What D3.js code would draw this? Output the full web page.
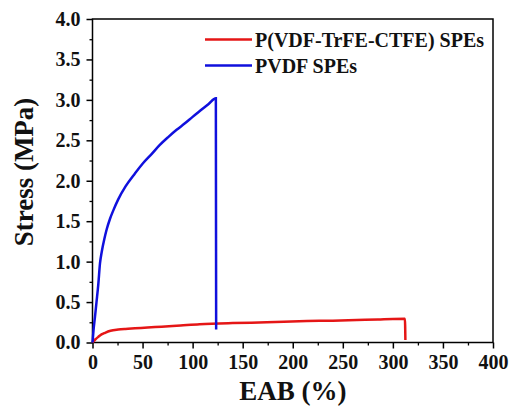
<!DOCTYPE html>
<html>
<head>
<meta charset="utf-8">
<script src="https://cdn.jsdelivr.net/npm/d3@7"></script>
<style>
  body { margin: 0; background: #fff; }
</style>
</head>
<body>
<div id="chart"></div>
<script>
// PVDF SPEs (blue)
let pvdfStrain = [0, 1, 2.5, 4, 5.8, 7.5, 9.2, 12, 14.2, 17.5, 21, 25.7, 33, 42.4, 50, 59, 67, 75.6, 84, 92.3, 100, 109, 116, 123.2, 123.5];
let pvdfStress = [0, 0.15, 0.32, 0.5, 0.72, 0.98, 1.12, 1.29, 1.40, 1.53, 1.64, 1.77, 1.93, 2.09, 2.21, 2.33, 2.44, 2.54, 2.63, 2.71, 2.79, 2.88, 2.95, 3.02, 0.16];

// P(VDF-TrFE-CTFE) SPEs (red)
let terStrain = [0, 3, 5.8, 9, 12.5, 18, 25.7, 33, 42.4, 55, 69, 88, 107, 140, 174, 214, 240, 264, 285, 300, 312, 312.5];
let terStress = [0, 0.04, 0.07, 0.10, 0.12, 0.145, 0.16, 0.168, 0.175, 0.185, 0.195, 0.21, 0.225, 0.24, 0.25, 0.265, 0.27, 0.278, 0.285, 0.292, 0.294, 0.03];

let xTicks = [0, 50, 100, 150, 200, 250, 300, 350, 400];
let yTicks = [0, 0.5, 1.0, 1.5, 2.0, 2.5, 3.0, 3.5, 4.0];
let seriesNames = ["P(VDF-TrFE-CTFE) SPEs", "PVDF SPEs"];
let seriesColors = ["#e51616", "#1010dd"];

let font = "'Liberation Serif', 'Times New Roman', 'DejaVu Serif', serif";
let w = 509;
let h = 406;
let mLeft = 92.5, mRight = 493, mTop = 19, mBottom = 342.5;

let svg = d3.select("#chart")
            .append("svg")
            .attr("width", w)
            .attr("height", h);

let x = d3.scaleLinear().domain([0, 400]).range([mLeft, mRight]);
let y = d3.scaleLinear().domain([0, 4]).range([mBottom, mTop]);

// minor ticks
svg.append("g")
    .attr("transform", "translate(0," + mBottom + ")")
    .call(d3.axisBottom(x).tickValues(d3.range(25, 400, 50)).tickSize(3).tickFormat(""))
    .call(g => g.select(".domain").remove())
    .selectAll("line").attr("stroke-width", 1.3);
svg.append("g")
    .attr("transform", "translate(" + mLeft + ",0)")
    .call(d3.axisLeft(y).tickValues(d3.range(0.25, 4, 0.5)).tickSize(3).tickFormat(""))
    .call(g => g.select(".domain").remove())
    .selectAll("line").attr("stroke-width", 1.3);

// major ticks
let xAxis = svg.append("g")
    .attr("transform", "translate(0," + mBottom + ")")
    .call(d3.axisBottom(x).tickValues(xTicks).tickSize(6).tickPadding(6).tickFormat(d3.format("d")));
xAxis.select(".domain").remove();
xAxis.selectAll("line").attr("stroke-width", 1.5);
xAxis.selectAll("text")
    .style("font-family", font)
    .style("font-weight", "bold")
    .style("font-size", "20px")
    .attr("fill", "#111");

let yAxis = svg.append("g")
    .attr("transform", "translate(" + mLeft + ",0)")
    .call(d3.axisLeft(y).tickValues(yTicks).tickSize(6).tickPadding(6).tickFormat(d3.format(".1f")));
yAxis.select(".domain").remove();
yAxis.selectAll("line").attr("stroke-width", 1.5);
yAxis.selectAll("text")
    .style("font-family", font)
    .style("font-weight", "bold")
    .style("font-size", "20px")
    .attr("fill", "#111");

// frame
svg.append("rect")
    .attr("x", mLeft)
    .attr("y", mTop)
    .attr("width", mRight - mLeft)
    .attr("height", mBottom - mTop)
    .attr("fill", "none")
    .attr("stroke", "#000")
    .attr("stroke-width", 1.5);

let line = d3.line()
    .x(d => x(d[0]))
    .y(d => y(d[1]))
    .curve(d3.curveMonotoneX);

let terData = terStrain.map((v, i) => [v, terStress[i]]);
let pvdfData = pvdfStrain.map((v, i) => [v, pvdfStress[i]]);

svg.append("path")
    .datum(terData)
    .attr("d", line)
    .attr("fill", "none")
    .attr("stroke", seriesColors[0])
    .attr("stroke-width", 2.5);

svg.append("path")
    .datum(pvdfData)
    .attr("d", line)
    .attr("fill", "none")
    .attr("stroke", seriesColors[1])
    .attr("stroke-width", 2.5);

// legend
let legend = svg.selectAll(".legend")
    .data(seriesNames)
    .enter()
    .append("g")
    .attr("class", "legend")
    .attr("transform", (d, i) => "translate(205," + (39.5 + i * 26) + ")");

legend.append("line")
    .attr("x1", 0)
    .attr("x2", 47)
    .attr("stroke", (d, i) => seriesColors[i])
    .attr("stroke-width", 2.5);

legend.append("text")
    .attr("x", 50)
    .attr("y", 7)
    .style("font-family", font)
    .style("font-weight", "bold")
    .style("font-size", "20px")
    .attr("fill", "#111")
    .text(d => d);

// axis titles
svg.append("text")
    .attr("x", (mLeft + mRight) / 2)
    .attr("y", 400)
    .attr("text-anchor", "middle")
    .style("font-family", font)
    .style("font-weight", "bold")
    .style("font-size", "27px")
    .attr("fill", "#111")
    .text("EAB (%)");

svg.append("text")
    .attr("transform", "translate(33,172) rotate(-90)")
    .attr("text-anchor", "middle")
    .style("font-family", font)
    .style("font-weight", "bold")
    .style("font-size", "27px")
    .attr("fill", "#111")
    .text("Stress (MPa)");
</script>
</body>
</html>
